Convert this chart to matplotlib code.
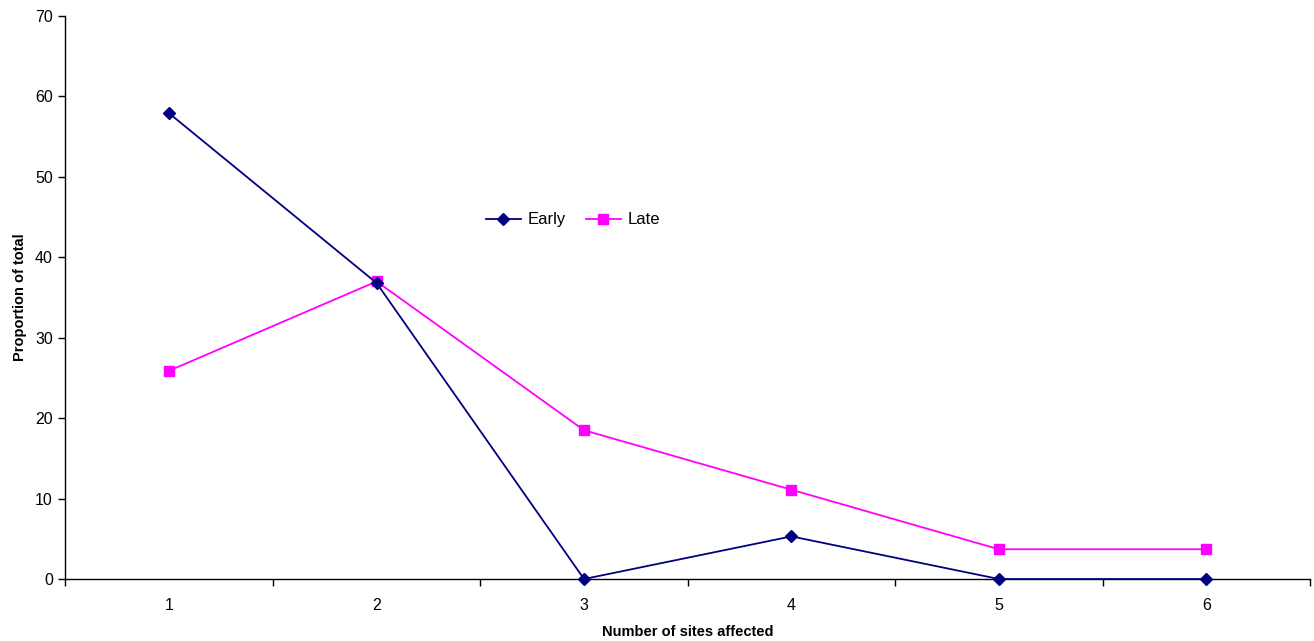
import matplotlib

matplotlib.use("Agg")
import matplotlib.pyplot as plt
import numpy as np

plt.rcParams["font.family"] = ["Liberation Sans", "DejaVu Sans"]

sites = ["1", "2", "3", "4", "5", "6"]
early = [57.9, 36.8, 0.0, 5.3, 0.0, 0.0]
late = [25.9, 37.0, 18.5, 11.1, 3.7, 3.7]

fig = plt.figure(figsize=(13.14, 6.41), dpi=100)
ax = fig.add_axes([0.0498, 0.0967, 0.9472, 0.8783])

x = np.arange(1, len(sites) + 1)
ax.plot(x, early, color="#000080", marker="D", markersize=6, linewidth=1.3,
        label="Early", clip_on=False, zorder=3)
ax.plot(x, late, color="#FF00FF", marker="s", markersize=7, linewidth=1.3,
        label="Late", clip_on=False, zorder=2)

ax.set_xlim(0.5, len(sites) + 0.5)
ax.set_ylim(0, 70)
ax.set_yticks(np.arange(0, 71, 10))
ax.set_xticks(x)
ax.set_xticklabels(sites)
ax.set_xticks(np.arange(0.5, len(sites) + 1, 1), minor=True)
ax.tick_params(axis="x", which="major", length=0, pad=14, labelsize=11.5)
ax.tick_params(axis="x", which="minor", length=5, width=1)
ax.tick_params(axis="y", length=5, width=1, labelsize=11.5, pad=4)

for side in ("top", "right"):
    ax.spines[side].set_visible(False)
ax.spines["left"].set_linewidth(1)
ax.spines["bottom"].set_linewidth(1)

ax.set_xlabel("Number of sites affected", fontweight="bold", fontsize=10.5, labelpad=8)
ax.set_ylabel("Proportion of total", fontweight="bold", fontsize=10.5, labelpad=6)

fig.legend(loc="center", bbox_to_anchor=(573 / 1314, 1 - 220 / 641), ncol=2,
           frameon=False, fontsize=12, handlelength=2.1, columnspacing=1.2,
           handletextpad=0.4)

fig.savefig("out.png", dpi=100)
